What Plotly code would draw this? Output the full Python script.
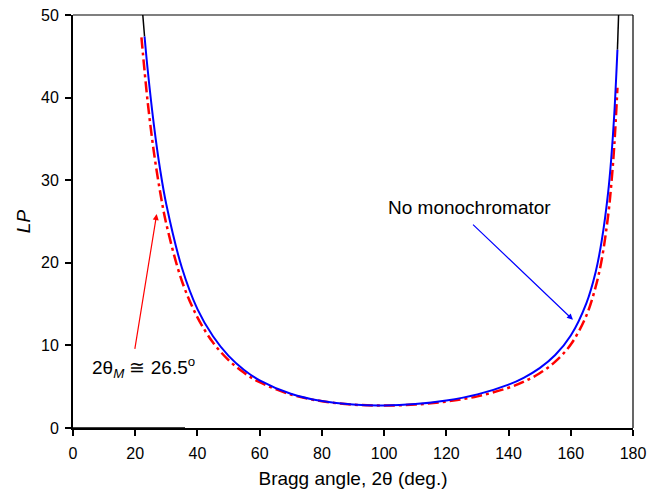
import plotly.graph_objects as go

# Lorentz-polarization factor
two_theta = [23, 24, 26, 28, 30, 35, 40, 45, 50, 55, 60, 70, 80, 90, 100, 110, 120,
             130, 140, 145, 150, 155, 160, 165, 168, 170, 172, 173, 174, 175]
lp_no_mono = [47.4, 43.4, 36.7, 31.3, 27.05, 19.4, 14.4, 11.1, 8.73, 7.03, 5.77, 4.15,
              3.26, 2.83, 2.73, 2.90, 3.33, 4.07, 5.25, 6.11, 7.25, 8.83, 11.2, 15.1,
              18.9, 22.8, 28.5, 32.6, 38.1, 45.8]

two_theta_m = [22, 24, 26, 28, 30, 35, 40, 45, 50, 55, 60, 70, 80, 90, 100, 110, 120,
               130, 140, 145, 150, 155, 160, 165, 168, 170, 172, 173, 174, 175]
lp_mono = [47.3, 39.5, 33.4, 28.6, 24.7, 17.8, 13.4, 10.35, 8.22, 6.68, 5.54, 4.06,
           3.24, 2.83, 2.72, 2.84, 3.20, 3.83, 4.87, 5.62, 6.63, 8.04, 10.1, 13.6,
           17.1, 20.5, 25.7, 29.4, 34.3, 41.2]

# black reference curve pieces visible beyond the coloured curves
black_left_x = [20, 21, 22, 23]
black_left_y = [63.4, 57.3, 52.0, 47.4]
black_right_x = [175, 176]
black_right_y = [45.8, 57.2]
black_base_x = [0, 36]
black_base_y = [0, 0]

fig = go.Figure()

for bx, by in [(black_left_x, black_left_y), (black_right_x, black_right_y),
               (black_base_x, black_base_y)]:
    fig.add_trace(go.Scatter(x=bx, y=by, mode='lines', line=dict(color='black', width=1.5),
                             showlegend=False))

fig.add_trace(go.Scatter(
    x=two_theta_m, y=lp_mono, mode='lines',
    line=dict(color='#ff0000', width=2.5, dash='11px,4px,3px,4px', shape='spline'),
    showlegend=False
))
fig.add_trace(go.Scatter(
    x=two_theta, y=lp_no_mono, mode='lines',
    line=dict(color='#0000ff', width=2, shape='spline'),
    showlegend=False
))

fig.add_annotation(x=160.7, y=13.1, ax=128.1, ay=24.8, xref='x', yref='y', axref='x', ayref='y',
                   text='', showarrow=True, arrowhead=2, arrowsize=1, arrowwidth=1.2,
                   arrowcolor='#0000ff')
fig.add_annotation(x=127.5, y=26.75, text='No monochromator', showarrow=False,
                   font=dict(size=19, color='black'))

fig.add_annotation(x=26.9, y=25.9, ax=19.8, ay=9.4, xref='x', yref='y', axref='x', ayref='y',
                   text='', showarrow=True, arrowhead=2, arrowsize=1, arrowwidth=1.2,
                   arrowcolor='#ff0000')
fig.add_annotation(x=22.7, y=7.36, text='2θ<sub><i>M</i></sub> ≅ 26.5<sup>o</sup>',
                   showarrow=False, font=dict(size=19, color='black'))

# thin top and right frame
fig.add_shape(type='line', xref='paper', yref='paper', x0=0, x1=1, y0=1, y1=1,
              line=dict(color='black', width=1.2))
fig.add_shape(type='line', xref='paper', yref='paper', x0=1, x1=1, y0=0, y1=1,
              line=dict(color='black', width=1.2))

fig.update_layout(
    width=651, height=493,
    margin=dict(l=73, r=18, t=15, b=65),
    plot_bgcolor='white', paper_bgcolor='white',
    font=dict(family='Liberation Sans, Arial, sans-serif', size=16, color='black'),
    xaxis=dict(range=[0, 180], dtick=20, showgrid=False, zeroline=False, automargin=False,
               showline=True, linecolor='black', linewidth=2,
               ticks='outside', ticklen=6, tickwidth=1.5, tickcolor='black',
               ticklabelstandoff=4,
               title=dict(text='Bragg angle, 2θ (deg.)', font=dict(size=19), standoff=10)),
    yaxis=dict(range=[0, 50], dtick=10, showgrid=False, zeroline=False, automargin=False,
               showline=True, linecolor='black', linewidth=2,
               ticks='outside', ticklen=6, tickwidth=1.5, tickcolor='black',
               ticklabelstandoff=3,
               title=dict(text='<i>LP</i>', font=dict(size=19), standoff=5)),
)

# the page body has a default 8px margin; drop it so the figure sits at the corner
fig.write_html("out.html", config={'displayModeBar': False},
               post_script="document.body.style.margin='0';")
